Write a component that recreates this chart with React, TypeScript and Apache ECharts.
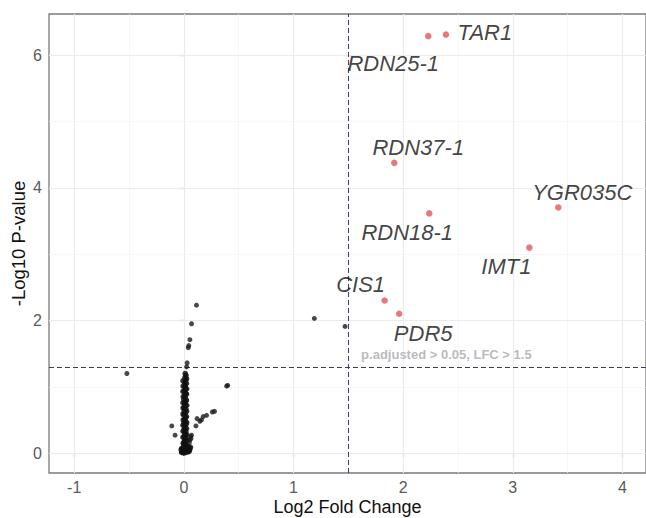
import React, { useEffect, useRef } from "react";
import * as echarts from "echarts";

// ---- data ----
const sigGenes = ["TAR1", "RDN25-1", "RDN37-1", "RDN18-1", "YGR035C", "IMT1", "CIS1", "PDR5"];
const sigLog2FC = [2.39, 2.229, 1.919, 2.238, 3.415, 3.151, 1.831, 1.964];
const sigNegLogP = [6.31, 6.286, 4.376, 3.614, 3.704, 3.098, 2.3, 2.1];

// scattered non-significant genes
const otherLog2FC = [-0.52, 1.19, 1.47, 0.115, 0.07, 0.055, 0.045, 0.04, 0.03, 0.025, 0.4, 0.39, -0.11, -0.08, 0.11, 0.12, 0.146, 0.16, 0.176, 0.207, 0.26, 0.28, 0.06, 0.07, 0.055, 0.05, 0.065];
const otherNegLogP = [1.2, 2.03, 1.91, 2.23, 1.95, 1.71, 1.62, 1.59, 1.36, 1.3, 1.02, 1.01, 0.41, 0.27, 0.41, 0.52, 0.48, 0.5, 0.55, 0.57, 0.62, 0.63, 0.25, 0.27, 0.2, 0.16, 0.22];

// dense column of genes with ~zero fold change
const nullLog2FC = [0.0, 0.015, 0.005, 0.02, 0.0, 0.012, 0.004, 0.018, 0.0, 0.015, 0.006, 0.02, 0.002, 0.014, 0.008, 0.019, 0.0, 0.013, 0.005, 0.02, 0.001, 0.016, 0.007, 0.018, 0.0, 0.012, 0.004, 0.02, 0.002, 0.015, 0.006, 0.017, 0.0, 0.013, 0.008, 0.018, 0.003, 0.015, 0.01, 0.012, 0.008, 0.015, 0.01,
  -0.02, 0.0, 0.02, 0.04, -0.01, 0.03, 0.05, -0.02, 0.01, 0.045, 0.0, 0.025, -0.015, 0.055, -0.025, 0.035, 0.06,
  -0.008, 0.025, -0.006, 0.026, -0.008, 0.024, -0.007, 0.025, -0.008, 0.026, -0.006, 0.024, -0.008, 0.025, -0.007, 0.026, -0.008, 0.024, -0.006, 0.025, -0.008, 0.026, -0.007, 0.024, -0.008, 0.025, 0.02, 0.012];
const nullNegLogP = [0.02, 0.04, 0.05, 0.07, 0.08, 0.1, 0.12, 0.14, 0.16, 0.18, 0.2, 0.22, 0.25, 0.27, 0.3, 0.32, 0.35, 0.38, 0.4, 0.43, 0.46, 0.48, 0.51, 0.54, 0.57, 0.6, 0.63, 0.66, 0.69, 0.72, 0.75, 0.78, 0.81, 0.84, 0.87, 0.9, 0.93, 0.96, 0.99, 1.02, 1.06, 1.1, 1.14,
  0.01, 0.0, 0.01, 0.02, 0.04, 0.05, 0.03, 0.07, 0.08, 0.08, 0.11, 0.12, 0.02, 0.06, 0.05, 0.1, 0.09,
  0.06, 0.1, 0.15, 0.19, 0.24, 0.28, 0.33, 0.37, 0.42, 0.46, 0.5, 0.55, 0.59, 0.63, 0.68, 0.72, 0.76, 0.8, 0.85, 0.89, 0.93, 0.97, 1.01, 1.05, 1.09, 1.12, 1.17, 1.2];

const pThreshold = 1.301;
const lfcThreshold = 1.5;
const annotationText = "p.adjusted > 0.05, LFC > 1.5";
const annotationPos = [1.612, 1.489];

const xTicks = [-1, 0, 1, 2, 3, 4];
const xMinor = [-0.5, 0.5, 1.5, 2.5, 3.5];
const yTicks = [0, 2, 4, 6];
const yMinor = [1, 3, 5];

const xTitle = "Log2 Fold Change";
const yTitle = "-Log10 P-value";

// ---- layout (label offsets in pixels, not data) ----
const labelOffsets: Record<string, [number, number]> = {
  TAR1: [39, -2],
  "RDN25-1": [-35, 27.5],
  "RDN37-1": [24, -15.5],
  "RDN18-1": [-22, 19],
  YGR035C: [24, -15],
  IMT1: [-23, 19],
  CIS1: [-24, -16],
  PDR5: [24, 20],
};

const FONT = "'Liberation Sans', Arial, sans-serif";

export default function App() {
  const ref = useRef<HTMLDivElement>(null);
  useEffect(() => {
    if (!ref.current) return;
    const chart = echarts.init(ref.current, undefined, { renderer: "svg" });

    const gridLines = [
      ...xTicks.map((v) => ({ xAxis: v, lineStyle: { color: "#ebebeb", width: 1.1, type: "solid" } })),
      ...xMinor.map((v) => ({ xAxis: v, lineStyle: { color: "#f3f3f3", width: 0.7, type: "solid" } })),
      ...yTicks.map((v) => ({ yAxis: v, lineStyle: { color: "#ebebeb", width: 1.1, type: "solid" } })),
      ...yMinor.map((v) => ({ yAxis: v, lineStyle: { color: "#f3f3f3", width: 0.7, type: "solid" } })),
    ];

    const option: any = {
      animation: false,
      backgroundColor: "#ffffff",
      textStyle: { fontFamily: FONT },
      grid: {
        left: 49,
        top: 14,
        right: 0,
        bottom: 45,
        containLabel: false,
        outerBoundsMode: "none",
        show: true,
        borderColor: "#7a7a7a",
        borderWidth: 1.3,
        backgroundColor: "#ffffff",
      },
      xAxis: {
        type: "value",
        min: -1.23,
        max: 4.215,
        axisLine: { show: false },
        splitLine: { show: false },
        axisTick: { show: true, length: 4, customValues: xTicks, lineStyle: { color: "#7a7a7a", width: 1.2 } },
        axisLabel: { customValues: xTicks, fontSize: 16, color: "#5a5a5a", margin: 6, fontFamily: FONT },
        name: xTitle,
        nameLocation: "middle",
        nameGap: 25,
        nameMoveOverlap: false,
        nameTextStyle: { fontSize: 18, color: "#111", fontFamily: FONT },
      },
      yAxis: {
        type: "value",
        min: -0.3,
        max: 6.62,
        axisLine: { show: false },
        splitLine: { show: false },
        axisTick: { show: true, length: 4, customValues: yTicks, lineStyle: { color: "#7a7a7a", width: 1.2 } },
        axisLabel: { customValues: yTicks, fontSize: 16, color: "#5a5a5a", margin: 7, fontFamily: FONT },
        name: yTitle,
        nameLocation: "middle",
        nameGap: 21,
        nameMoveOverlap: false,
        nameTextStyle: { fontSize: 18.5, color: "#111", fontFamily: FONT },
      },
      series: [
        {
          type: "scatter",
          data: [],
          z: 1,
          silent: true,
          markLine: {
            silent: true,
            symbol: ["none", "none"],
            label: { show: false },
            z: 1,
            data: gridLines,
          },
        },
        {
          type: "scatter",
          data: [],
          z: 3,
          silent: true,
          markLine: {
            silent: true,
            symbol: ["none", "none"],
            label: { show: false },
            z: 3,
            data: [
              { xAxis: lfcThreshold, lineStyle: { color: "#45457a", width: 1.1, type: [5, 3] } },
              { yAxis: pThreshold, lineStyle: { color: "#3c3c50", width: 1.1, type: [5, 3] } },
            ],
          },
        },
        {
          type: "scatter",
          z: 4,
          symbol: "circle",
          symbolSize: 5.5,
          itemStyle: { color: "#111", opacity: 0.85 },
          data: nullLog2FC.map((x, i) => [x, nullNegLogP[i]]),
        },
        {
          type: "scatter",
          z: 4,
          symbol: "circle",
          symbolSize: 5,
          itemStyle: { color: "#1a1a1a", opacity: 0.8 },
          data: otherLog2FC.map((x, i) => [x, otherNegLogP[i]]),
        },
        {
          type: "scatter",
          z: 5,
          symbol: "circle",
          symbolSize: 6.5,
          itemStyle: { color: "#e2565a" },
          data: sigGenes.map((g, i) => ({
            name: g,
            value: [sigLog2FC[i], sigNegLogP[i]],
            label: {
              show: true,
              position: "inside",
              offset: labelOffsets[g],
              align: "center",
              verticalAlign: "middle",
              formatter: g,
              fontSize: 22,
              fontStyle: "italic",
              color: "#111",
              fontFamily: FONT,
            },
          })),
        },
        {
          type: "scatter",
          z: 6,
          symbolSize: 1,
          itemStyle: { color: "rgba(0,0,0,0)" },
          silent: true,
          data: [
            {
              value: annotationPos,
              label: {
                show: true,
                position: "right",
                distance: 0,
                formatter: annotationText,
                fontSize: 13,
                fontWeight: "bold",
                color: "#a8a8ad",
                fontFamily: FONT,
                verticalAlign: "middle",
              },
            },
          ],
        },
      ],
    };

    chart.setOption(option);
    return () => chart.dispose();
  }, []);

  return (
    <div
      ref={ref}
      style={{ position: "fixed", left: 0, top: 0, width: 646, height: 518, background: "#fff" }}
    />
  );
}
